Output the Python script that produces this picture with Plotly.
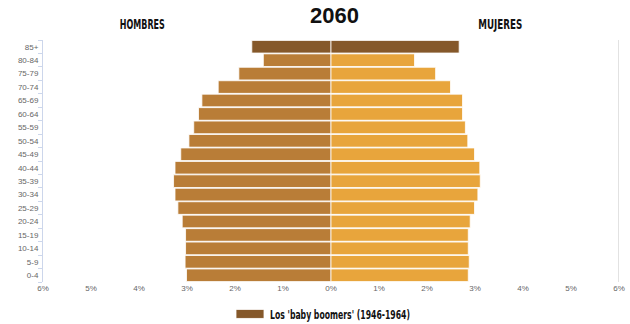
import plotly.graph_objects as go

# Data (top to bottom as drawn)
age_groups = ["85+", "80-84", "75-79", "70-74", "65-69", "60-64", "55-59", "50-54", "45-49",
              "40-44", "35-39", "30-34", "25-29", "20-24", "15-19", "10-14", "5-9", "0-4"]
hombres = [1.65, 1.41, 1.92, 2.35, 2.69, 2.76, 2.86, 2.96, 3.13,
           3.25, 3.28, 3.25, 3.19, 3.10, 3.03, 3.03, 3.04, 3.01]
mujeres = [2.67, 1.74, 2.18, 2.49, 2.74, 2.74, 2.80, 2.85, 2.99,
           3.10, 3.11, 3.06, 2.99, 2.90, 2.86, 2.86, 2.88, 2.86]
boomer_groups = ["85+"]
tick_vals = [-6, -5, -4, -3, -2, -1, 0, 1, 2, 3, 4, 5, 6]
tick_text = ["6%", "5%", "4%", "3%", "2%", "1%", "0%", "1%", "2%", "3%", "4%", "5%", "6%"]

C_MEN = "#B97D37"
C_WOMEN = "#E8A53C"
C_BOOM = "#85582A"

is_boom = [g in boomer_groups for g in age_groups]
men_y = [g for g, b in zip(age_groups, is_boom) if not b]
men_x = [-v for v, b in zip(hombres, is_boom) if not b]
wom_y = [g for g, b in zip(age_groups, is_boom) if not b]
wom_x = [v for v, b in zip(mujeres, is_boom) if not b]
boom_y = [g for g, b in zip(age_groups, is_boom) if b] * 2
boom_x = [-v for v, b in zip(hombres, is_boom) if b] + [v for v, b in zip(mujeres, is_boom) if b]

fig = go.Figure()
line = dict(color="rgba(255,255,255,0.8)", width=1)
fig.add_trace(go.Bar(y=men_y, x=men_x, orientation="h", marker=dict(color=C_MEN, line=line),
                     showlegend=False, name="Hombres"))
fig.add_trace(go.Bar(y=wom_y, x=wom_x, orientation="h", marker=dict(color=C_WOMEN, line=line),
                     showlegend=False, name="Mujeres"))
fig.add_trace(go.Bar(y=boom_y, x=boom_x, orientation="h", marker=dict(color=C_BOOM, line=line),
                     showlegend=True, name="Los 'baby boomers' (1946-1964)"))

cond = "DejaVu Sans, sans-serif"

W, H = 630, 324
ML, MR, MT, MB = 43, 11, 40, 42
plot_w = W - ML - MR
plot_h = H - MT - MB


def px2paper(px, py):
    return (px - ML) / plot_w, 1 - (py - MT) / plot_h


ann_specs = [
    ("2060", 334, 15, dict(family="Liberation Sans, Arial, sans-serif", size=22, color="#111111", weight="bold")),
    ("HOMBRES", 142.5, 23.5, dict(family=cond, size=14, color="#111111", weight="bold")),
    ("MUJERES", 500, 24.5, dict(family=cond, size=14, color="#111111", weight="bold")),
]
anns = []
for text, px, py, font in ann_specs:
    x, y = px2paper(px, py)
    anns.append(dict(text=text, font=font, showarrow=False, xref="paper", yref="paper",
                     x=x, y=y, xanchor="center", yanchor="middle"))

lx, _ = px2paper(230, 0)
fig.update_layout(
    width=W, height=H,
    margin=dict(l=ML, r=MR, t=MT, b=MB, autoexpand=False),
    paper_bgcolor="white", plot_bgcolor="white",
    barmode="relative", bargap=0.06,
    xaxis=dict(range=[-6, 6], tickvals=tick_vals, ticktext=tick_text, showgrid=False,
               zeroline=False, showline=False, ticks="", automargin=False,
               tickfont=dict(family="Liberation Sans, Arial, sans-serif", size=8, color="#666666"),
               fixedrange=True),
    yaxis=dict(type="category", categoryorder="array", categoryarray=age_groups[::-1],
               showgrid=False, zeroline=False, showline=True, linecolor="#ccd6eb", linewidth=1,
               ticks="outside", ticklen=4, tickcolor="#ccd6eb", tickson="boundaries",
               ticklabelstandoff=2, automargin=False,
               tickfont=dict(family="Liberation Sans, Arial, sans-serif", size=8, color="#666666")),
    legend=dict(orientation="h", x=lx, xanchor="left", yref="container", y=1 - 314 / H,
                yanchor="middle", font=dict(family=cond, size=13, color="#111111", weight="bold")),
    shapes=[dict(type="line", xref="x", yref="paper", x0=6, x1=6, y0=0, y1=1,
                 line=dict(color="#d8d8d8", width=1.5))],
    annotations=anns,
)

# Condense the headline texts (the original uses a condensed typeface) and widen the legend swatch
post = """
var gd = document.getElementsByClassName('plotly-graph-div')[0];
function condense(){
  var widths = {'HOMBRES': 45, 'MUJERES': 44};
  gd.querySelectorAll('.annotation-text').forEach(function(t){
    var w = widths[t.textContent];
    if (w) { t.setAttribute('textLength', w); t.setAttribute('lengthAdjust', 'spacingAndGlyphs'); }
  });
  gd.querySelectorAll('.legendtext').forEach(function(t){
    t.setAttribute('textLength', 140); t.setAttribute('lengthAdjust', 'spacingAndGlyphs');
  });
  gd.querySelectorAll('.legendpoints path').forEach(function(p){
    p.setAttribute('d', 'M14,4.5H-14V-4.5H14Z');
  });
}
condense();
setTimeout(condense, 50);
gd.on('plotly_afterplot', condense);
"""

fig.write_html("out.html", post_script=post)
